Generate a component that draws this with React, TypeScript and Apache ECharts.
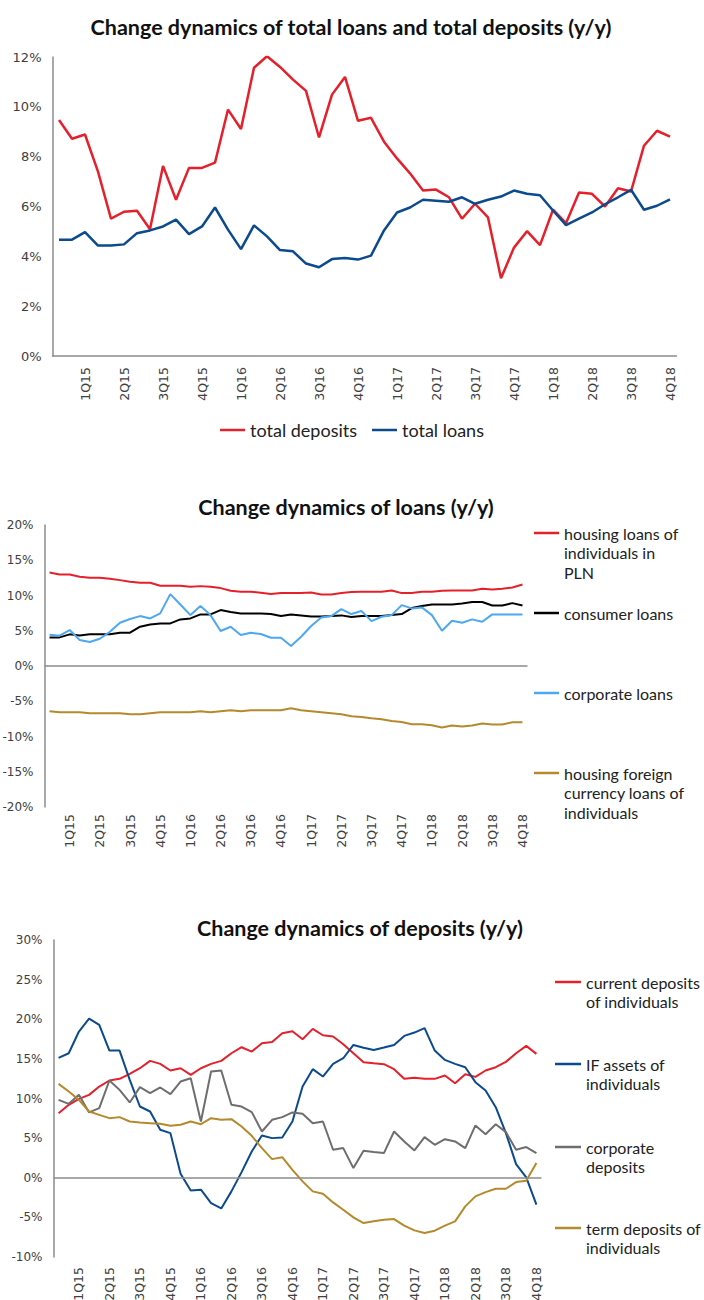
import React, { useEffect, useRef } from 'react';
import * as echarts from 'echarts';

// ---------- DATA ----------
const quarterLabels = ['1Q15','2Q15','3Q15','4Q15','1Q16','2Q16','3Q16','4Q16','1Q17','2Q17','3Q17','4Q17','1Q18','2Q18','3Q18','4Q18'];
const years = ['2015','2016','2017','2018'];
const monthNums = ['01','02','03','04','05','06','07','08','09','10','11','12'];
const categories: string[] = [];
years.forEach((y) => monthNums.forEach((m) => categories.push(y + '-' + m)));

// Chart 1 (% y/y)
const totalDeposits = [9.47,8.72,8.89,7.40,5.51,5.79,5.83,5.09,7.63,6.27,7.55,7.55,7.76,9.89,9.11,11.57,12.03,11.60,11.09,10.64,8.77,10.49,11.20,9.44,9.56,8.60,7.93,7.33,6.64,6.68,6.37,5.51,6.11,5.56,3.12,4.35,5.01,4.45,5.87,5.33,6.56,6.51,6.00,6.73,6.60,8.44,9.04,8.80];
const totalLoans = [4.67,4.67,4.97,4.43,4.43,4.48,4.93,5.04,5.20,5.47,4.89,5.20,5.96,5.07,4.29,5.24,4.80,4.25,4.20,3.71,3.56,3.89,3.93,3.87,4.03,5.04,5.76,5.96,6.27,6.23,6.19,6.37,6.11,6.27,6.40,6.64,6.51,6.45,5.84,5.25,5.51,5.76,6.09,6.37,6.67,5.87,6.03,6.29];

// Chart 2 (% y/y)
const housingPLN = [13.27,12.98,12.98,12.65,12.51,12.51,12.37,12.18,11.95,11.80,11.80,11.38,11.38,11.38,11.24,11.33,11.24,11.05,10.67,10.53,10.53,10.39,10.20,10.34,10.34,10.34,10.43,10.15,10.15,10.34,10.48,10.53,10.53,10.53,10.72,10.34,10.34,10.53,10.53,10.67,10.72,10.72,10.72,10.95,10.86,10.95,11.14,11.57];
const consumerLoans = [4.06,4.06,4.49,4.34,4.49,4.49,4.49,4.72,4.72,5.57,5.90,6.04,6.04,6.61,6.75,7.32,7.32,7.93,7.65,7.46,7.46,7.46,7.37,7.08,7.32,7.18,7.03,7.03,7.08,7.18,6.94,7.08,7.08,7.08,7.22,7.37,8.22,8.50,8.73,8.73,8.73,8.88,9.07,9.07,8.59,8.59,8.92,8.59];
const corporateLoans = [4.44,4.30,5.10,3.68,3.40,3.87,4.86,6.14,6.66,7.08,6.75,7.46,10.20,8.73,7.22,8.50,7.22,4.96,5.57,4.39,4.72,4.53,4.01,4.01,2.83,4.15,5.67,6.89,7.08,8.07,7.37,7.79,6.37,6.99,7.22,8.64,8.17,8.31,7.22,5.00,6.42,6.14,6.61,6.28,7.32,7.32,7.32,7.32];
const housingFX = [-6.42,-6.56,-6.56,-6.56,-6.70,-6.70,-6.70,-6.70,-6.85,-6.85,-6.70,-6.56,-6.56,-6.56,-6.56,-6.42,-6.56,-6.42,-6.28,-6.42,-6.28,-6.28,-6.28,-6.28,-6.00,-6.28,-6.42,-6.56,-6.70,-6.85,-7.13,-7.22,-7.41,-7.55,-7.79,-7.93,-8.26,-8.26,-8.40,-8.73,-8.45,-8.59,-8.45,-8.17,-8.31,-8.31,-7.98,-7.98];

// Chart 3 (% y/y)
const currentDeposits = [8.15,9.20,9.96,10.46,11.51,12.27,12.48,13.10,13.82,14.75,14.37,13.53,13.82,12.98,13.82,14.37,14.75,15.71,16.47,15.92,16.97,17.14,18.24,18.49,17.48,18.78,17.98,17.82,16.85,15.71,14.58,14.45,14.33,13.70,12.48,12.61,12.48,12.48,12.90,11.93,13.07,12.73,13.53,13.95,14.62,15.71,16.64,15.63];
const ifAssets = [15.13,15.71,18.45,20.08,19.29,16.05,16.05,12.35,8.99,8.36,6.05,5.63,0.50,-1.60,-1.51,-3.19,-3.87,-1.72,0.71,3.32,5.34,5.00,5.08,7.10,11.51,13.70,12.77,14.37,15.08,16.76,16.40,16.13,16.43,16.76,17.90,18.32,18.87,16.05,14.87,14.37,13.95,12.06,11.00,8.90,5.63,1.72,0.04,-3.40];
const corporateDeposits = [9.83,9.33,10.46,8.24,8.78,12.27,11.09,9.50,11.43,10.67,11.39,10.55,12.14,12.56,7.10,13.40,13.53,9.20,8.99,8.28,5.84,7.31,7.65,8.24,8.07,6.89,7.10,3.53,3.74,1.22,3.40,3.24,3.11,5.84,4.58,3.45,5.13,4.16,4.87,4.58,3.74,6.60,5.50,6.76,5.76,3.53,3.87,3.11];
const termDeposits = [11.85,10.88,9.83,8.36,7.94,7.52,7.65,7.10,6.97,6.89,6.81,6.55,6.68,7.10,6.76,7.52,7.31,7.39,6.47,5.29,3.74,2.35,2.60,1.00,-0.46,-1.72,-2.02,-3.11,-4.03,-5.00,-5.71,-5.50,-5.29,-5.21,-6.05,-6.64,-6.97,-6.68,-6.05,-5.50,-3.61,-2.35,-1.81,-1.39,-1.39,-0.55,-0.38,1.85];

const titles = ['Change dynamics of total loans and total deposits (y/y)', 'Change dynamics of loans (y/y)', 'Change dynamics of deposits (y/y)'];

// ---------- STYLE ----------
const RED = '#E5202B';
const NAVY = '#0B4A8D';
const SKY = '#4DA8F2';
const BLACK = '#000000';
const GOLD = '#B5892C';
const GREY = '#6E6E6E';
const AXIS = '#8C8C8C';
const LABEL = '#404040';
const UI_FONT = 'Lato, "Open Sans", sans-serif';
const TICK_FONT = '"DejaVu Sans", sans-serif';

const legendLabels: Record<string, string> = {
  'housing loans of individuals in PLN': 'housing loans of\nindividuals in\nPLN',
  'consumer loans': 'consumer loans',
  'corporate loans': 'corporate loans',
  'housing foreign currency loans of individuals': 'housing foreign\ncurrency loans of\nindividuals',
  'current deposits of individuals': 'current deposits\nof individuals',
  'IF assets of individuals': 'IF assets of\nindividuals',
  'corporate deposits': 'corporate\ndeposits',
  'term deposits of individuals': 'term deposits of\nindividuals',
};

const LH = 19.5;

// The legend centres its text block on the marker; leading empty lines put the first
// text line on the marker, as in the reference.
function sideLegend(name: string, markerY: number, left: number, width: number) {
  const n = legendLabels[name].split('\n').length;
  return {
    data: [name],
    orient: 'vertical',
    left,
    top: markerY - ((2 * n - 1) * LH) / 2,
    padding: 0,
    icon: 'rect',
    itemWidth: width,
    itemHeight: 2.5,
    selectedMode: false,
    formatter: (nm: string) => '\n'.repeat(n - 1) + legendLabels[nm],
    textStyle: {
      fontSize: 16,
      lineHeight: LH,
      color: '#222222',
      fontFamily: UI_FONT,
    },
  };
}

function xAxis(gridIndex: number, margin: number) {
  return {
    type: 'category',
    gridIndex,
    data: categories,
    boundaryGap: true,
    axisLine: gridIndex === 0 ? { show: true, onZero: false, lineStyle: { color: AXIS, width: 1.5 } } : { show: false, onZero: false },
    axisTick: { show: false },
    splitLine: { show: false },
    axisLabel: {
      interval: (i: number) => i % 3 === 2,
      rotate: 90,
      margin,
      formatter: (_v: string, i: number) => quarterLabels[Math.floor(i / 3)],
      color: LABEL,
      fontSize: 12.5,
      fontFamily: TICK_FONT,
    },
  };
}

function yAxis(gridIndex: number, min: number, max: number, interval: number, fontSize: number) {
  return {
    type: 'value',
    gridIndex,
    min,
    max,
    interval,
    axisLine: { show: true, lineStyle: { color: AXIS, width: 1.5 } },
    axisTick: { show: false },
    splitLine: { show: false },
    axisLabel: { formatter: '{value}%', margin: 11, color: LABEL, fontSize, fontFamily: TICK_FONT },
  };
}

function line(name: string, data: number[], color: string, idx: number, width: number, extra: any = {}) {
  return {
    type: 'line',
    name,
    data,
    xAxisIndex: idx,
    yAxisIndex: idx,
    symbol: 'none',
    showSymbol: false,
    lineStyle: { color, width },
    itemStyle: { color },
    ...extra,
  };
}

const zeroLine = {
  markLine: {
    silent: true,
    symbol: 'none',
    label: { show: false },
    lineStyle: { color: AXIS, width: 1.5, type: 'solid' },
    data: [{ yAxis: 0 }],
  },
};

function title(text: string, centerX: number, top: number) {
  return {
    text,
    left: centerX,
    textAlign: 'center',
    top,
    padding: 0,
    textStyle: { fontSize: 21.5, fontWeight: 'bold', color: '#111111', fontFamily: UI_FONT, lineHeight: 26 },
  };
}

export default function App() {
  const ref = useRef<HTMLDivElement>(null);
  useEffect(() => {
    document.body.style.margin = '0';
    const chart = echarts.init(ref.current!, null, { renderer: 'svg' });
    const option: any = {
      animation: false,
      backgroundColor: '#ffffff',
      title: [title(titles[0], 351, 14), title(titles[1], 346, 494), title(titles[2], 360, 915)],
      grid: [
        { left: 52.5, top: 57, width: 624, height: 299, containLabel: false, outerBoundsMode: 'none' },
        { left: 44.5, top: 525, width: 483, height: 282, containLabel: false, outerBoundsMode: 'none' },
        { left: 53.5, top: 940, width: 488, height: 317, containLabel: false, outerBoundsMode: 'none' },
      ],
      xAxis: [xAxis(0, 11), xAxis(1, 7), xAxis(2, 10)],
      yAxis: [yAxis(0, 0, 12, 2, 13), yAxis(1, -20, 20, 5, 12), yAxis(2, -10, 30, 5, 12)],
      legend: [
        {
          data: ['total deposits', 'total loans'],
          left: 'center',
          top: 419,
          padding: 0,
          icon: 'rect',
          itemWidth: 25,
          itemHeight: 2.5,
          itemGap: 15,
          selectedMode: false,
          textStyle: { fontSize: 18, lineHeight: 22, color: '#222222', fontFamily: UI_FONT },
        },
        sideLegend('housing loans of individuals in PLN', 533, 534, 25),
        sideLegend('consumer loans', 613, 534, 25),
        sideLegend('corporate loans', 693, 534, 25),
        sideLegend('housing foreign currency loans of individuals', 773, 534, 25),
        sideLegend('current deposits of individuals', 982, 555, 26),
        sideLegend('IF assets of individuals', 1064, 555, 26),
        sideLegend('corporate deposits', 1147, 555, 26),
        sideLegend('term deposits of individuals', 1228, 555, 26),
      ],
      series: [
        line('total deposits', totalDeposits, RED, 0, 2.5),
        line('total loans', totalLoans, NAVY, 0, 2.5),
        line('housing loans of individuals in PLN', housingPLN, RED, 1, 2, zeroLine),
        line('consumer loans', consumerLoans, BLACK, 1, 2),
        line('corporate loans', corporateLoans, SKY, 1, 2),
        line('housing foreign currency loans of individuals', housingFX, GOLD, 1, 2),
        line('current deposits of individuals', currentDeposits, RED, 2, 2, zeroLine),
        line('IF assets of individuals', ifAssets, NAVY, 2, 2),
        line('corporate deposits', corporateDeposits, GREY, 2, 2),
        line('term deposits of individuals', termDeposits, GOLD, 2, 2),
      ],
    };
    chart.setOption(option);
    return () => chart.dispose();
  }, []);
  return <div ref={ref} style={{ position: 'absolute', left: 0, top: 0, width: 704, height: 1300 }} />;
}
